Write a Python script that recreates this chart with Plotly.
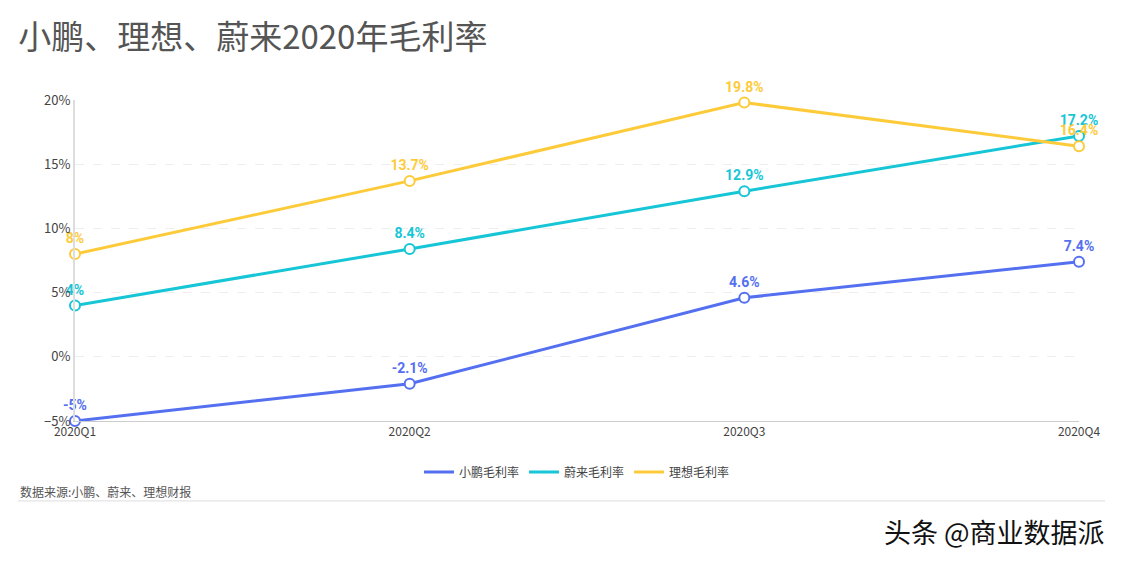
import plotly.graph_objects as go

quarters = ["2020Q1", "2020Q2", "2020Q3", "2020Q4"]
xpeng = [-5, -2.1, 4.6, 7.4]
nio = [4, 8.4, 12.9, 17.2]
li = [8, 13.7, 19.8, 16.4]

series = [
    ("小鹏毛利率", xpeng, "#5470f0"),
    ("蔚来毛利率", nio, "#16c6d6"),
    ("理想毛利率", li, "#fdcb3a"),
]

fig = go.Figure()
for name, vals, color in series:
    fig.add_trace(go.Scatter(
        x=quarters, y=vals, name=name, mode="lines+markers+text", showlegend=False,
        line=dict(color=color, width=3),
        marker=dict(size=10, color="white", line=dict(color=color, width=2)),
        text=[f"{v:g}%" for v in vals], textposition="top center",
        textfont=dict(color=color, size=14, family="Roboto, Noto Sans CJK SC", weight="bold"),
        cliponaxis=False,
    ))
# legend entries: short line only
for name, vals, color in series:
    fig.add_trace(go.Scatter(
        x=[None], y=[None], name=name, mode="lines",
        line=dict(color=color, width=3),
    ))

# page body has an 8px default margin, so margins are offset by that
fig.update_layout(
    width=1125, height=562,
    paper_bgcolor="white", plot_bgcolor="white",
    margin=dict(l=67, r=54, t=92, b=149, autoexpand=False),
    font=dict(family="Noto Sans CJK SC, sans-serif", color="#444", size=12),
    title=dict(text="小鹏、理想、蔚来2020年毛利率", x=0.009, xanchor="left", y=0.948, yanchor="middle",
               font=dict(size=33, color="#555")),
    legend=dict(orientation="h", x=0.5, xanchor="center", y=-0.159, yanchor="middle",
                font=dict(size=12, color="#444"), itemwidth=30),
    showlegend=True,
)
fig.update_xaxes(range=[0, 3], showline=True, linecolor="#ccc", linewidth=1, showgrid=False,
                 ticks="", tickfont=dict(size=12, color="#444"), zeroline=False, automargin=False)
fig.update_yaxes(range=[-5, 20], dtick=5, ticksuffix="%", showline=True, linecolor="#ddd", linewidth=2,
                 gridcolor="#eee", griddash="dash", zeroline=False, tickfont=dict(size=13, color="#444"),
                 automargin=False)

fig.add_annotation(text="数据来源:小鹏、蔚来、理想财报", xref="paper", yref="paper", x=-0.057, xanchor="left",
                   y=-0.221, yanchor="middle", showarrow=False, font=dict(size=12, color="#555"))
fig.add_shape(type="line", xref="paper", yref="paper", x0=-0.057, x1=1.026, y0=-0.249, y1=-0.249,
              line=dict(color="#ddd", width=1))
fig.add_annotation(text="头条 @商业数据派", xref="paper", yref="paper", x=1.028, xanchor="right",
                   y=-0.343, yanchor="middle", showarrow=False, font=dict(size=27, color="#111"))

fig.write_html("out.html")
